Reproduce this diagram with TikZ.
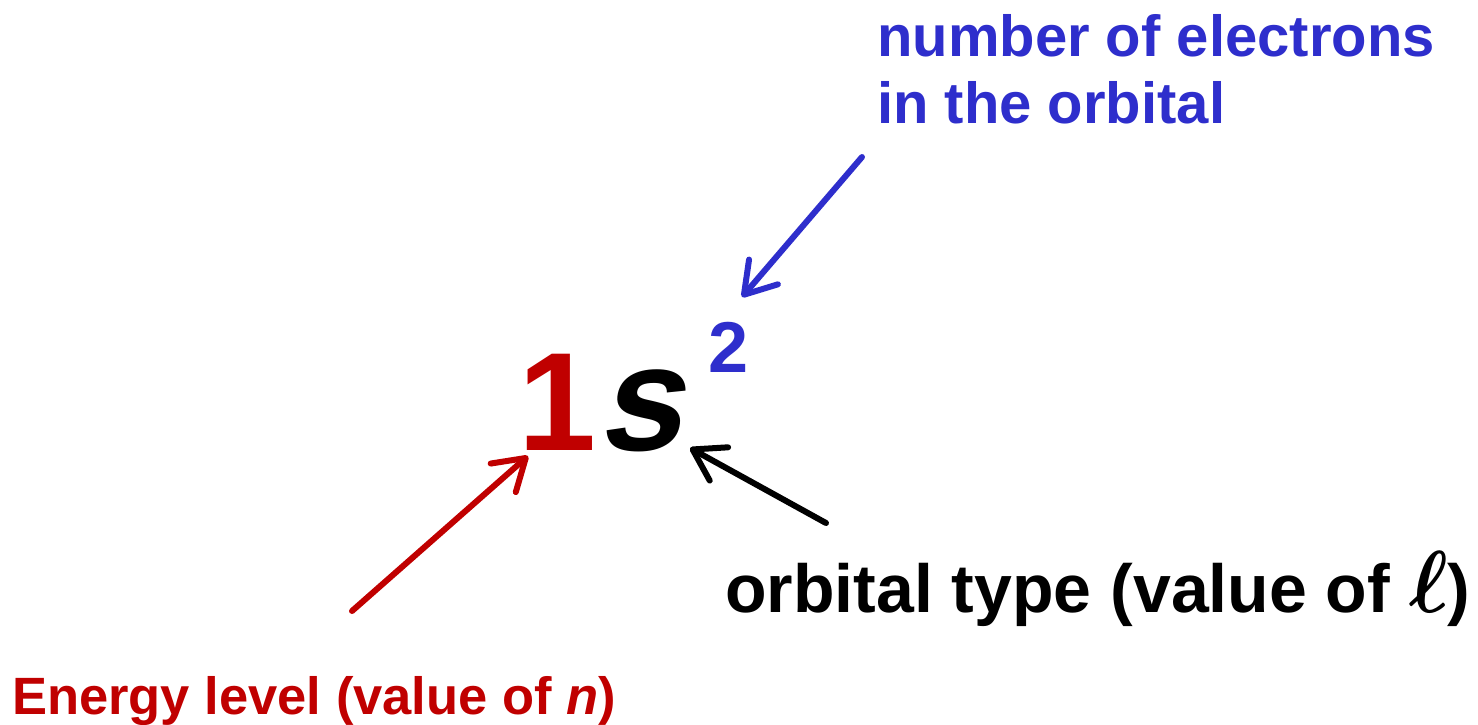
\documentclass[tikz,border=0pt]{standalone}
\usepackage{fontspec}
\usepackage{graphicx}
\setmainfont{Liberation Sans}
\newfontface\bisans{Liberation Sans Bold}[FakeSlant=0.22]
\usetikzlibrary{arrows.meta}
\definecolor{myred}{HTML}{C00000}
\definecolor{myblue}{HTML}{2E2ECC}
\newcommand\boldell{{\fontsize{10}{10}\selectfont\scalebox{8.2}[8.8]{\boldmath$\ell$}}}
\tikzset{
  lbl/.style={inner sep=0pt, anchor=base west},
  pointer/.style={line width=6pt, line cap=round, -{Straight Barb[length=30pt,width=38pt,round]}},
}
\begin{document}
\begin{tikzpicture}[x=1pt,y=-1pt]
\useasboundingbox (0,0) rectangle (1478,724);
% main symbol
\node[lbl, text=myred, font=\fontsize{140}{140}\selectfont\bfseries] (one) at (518,450) {1};
\node[lbl, font=\fontsize{150}{150}\bisans] (s) at (597,450) {s};
\node[lbl, text=myblue, font=\fontsize{72}{72}\selectfont\bfseries] (two) at (708,372) {2};
% labels
\node[lbl, text=myblue, font=\fontsize{58}{67}\selectfont\bfseries, align=left, anchor=north west] (num) at (877,14) {number of electrons\\in the orbital};
\node[lbl, font=\fontsize{68}{68}\selectfont\bfseries] (orb) at (725,612) {orbital type (value of \boldell)};
\node[lbl, text=myred, font=\fontsize{52.5}{52.5}\selectfont\bfseries] (en) at (12,714) {Energy level (value of \textit{n})};
% arrow ends
\coordinate (bS) at (862,157);
\coordinate (bE) at (742,297);
\coordinate (kS) at (826,523);
\coordinate (kE) at (690,448);
\coordinate (rS) at (352,611);
\coordinate (rE) at (528,456);
\draw[pointer, myblue] (bS) -- (bE);
\draw[pointer, black] (kS) -- (kE);
\draw[pointer, myred] (rS) -- (rE);
\end{tikzpicture}
\end{document}
